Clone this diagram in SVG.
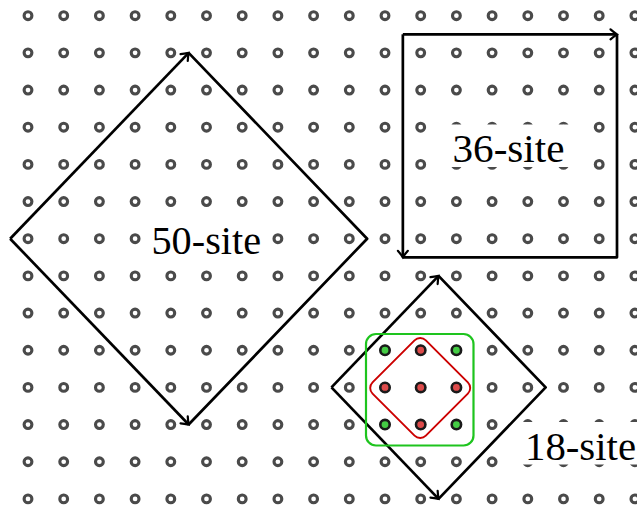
<svg xmlns="http://www.w3.org/2000/svg" xmlns:xlink="http://www.w3.org/1999/xlink" width="637" height="511" viewBox="0 0 637 511">
<style>
.edge{fill:none;stroke:#000;stroke-width:2.7;stroke-linejoin:round}
.lbl{font-family:"Liberation Serif","DejaVu Serif",serif;font-size:41px;fill:#000}
.bg{fill:#fff}
.site{fill:#fff;stroke:#4a4a4a;stroke-width:3.1}
.dot{stroke:#1a1a1a;stroke-width:2.6}
.g{fill:#44cc44}
.r{fill:#dd4b4b}
</style>
<defs>
<g id="row">
<circle class="site" cx="28" cy="0" r="3.9"/>
<circle class="site" cx="63.7" cy="0" r="3.9"/>
<circle class="site" cx="99.4" cy="0" r="3.9"/>
<circle class="site" cx="135.1" cy="0" r="3.9"/>
<circle class="site" cx="170.8" cy="0" r="3.9"/>
<circle class="site" cx="206.5" cy="0" r="3.9"/>
<circle class="site" cx="242.2" cy="0" r="3.9"/>
<circle class="site" cx="277.9" cy="0" r="3.9"/>
<circle class="site" cx="313.6" cy="0" r="3.9"/>
<circle class="site" cx="349.3" cy="0" r="3.9"/>
<circle class="site" cx="385" cy="0" r="3.9"/>
<circle class="site" cx="420.7" cy="0" r="3.9"/>
<circle class="site" cx="456.4" cy="0" r="3.9"/>
<circle class="site" cx="492.1" cy="0" r="3.9"/>
<circle class="site" cx="527.8" cy="0" r="3.9"/>
<circle class="site" cx="563.5" cy="0" r="3.9"/>
<circle class="site" cx="599.2" cy="0" r="3.9"/>
<circle class="site" cx="634.9" cy="0" r="3.9"/>
</g>
<marker id="arr" markerUnits="userSpaceOnUse" markerWidth="16" markerHeight="16" viewBox="-8 -8 16 16" refX="0" refY="0" orient="auto" overflow="visible">
<path d="M-6.5,-5 C-4,-2.8 -1.3,-0.9 0,0 C-1.3,0.9 -4,2.8 -6.5,5" fill="none" stroke="#000" stroke-width="2.2" stroke-linecap="round"/>
</marker>
</defs>
<g id="lattice">
<use href="#row" xlink:href="#row" y="15.7"/>
<use href="#row" xlink:href="#row" y="52.87"/>
<use href="#row" xlink:href="#row" y="90.04"/>
<use href="#row" xlink:href="#row" y="127.21"/>
<use href="#row" xlink:href="#row" y="164.38"/>
<use href="#row" xlink:href="#row" y="201.55"/>
<use href="#row" xlink:href="#row" y="238.72"/>
<use href="#row" xlink:href="#row" y="275.89"/>
<use href="#row" xlink:href="#row" y="313.06"/>
<use href="#row" xlink:href="#row" y="350.23"/>
<use href="#row" xlink:href="#row" y="387.4"/>
<use href="#row" xlink:href="#row" y="424.57"/>
<use href="#row" xlink:href="#row" y="461.74"/>
<use href="#row" xlink:href="#row" y="498.91"/>
</g>
<g id="connectors">
<path class="edge" d="M10.15,238.7 L188.65,52.85" marker-end="url(#arr)"/>
<path class="edge" d="M10.15,238.7 L188.65,424.55" marker-end="url(#arr)"/>
<path class="edge" d="M188.65,52.85 L367.15,238.7 L188.65,424.55"/>
<path class="edge" d="M402.85,34.3 L617,34.3" marker-end="url(#arr)"/>
<path class="edge" d="M402.85,34.3 L402.85,257.3" marker-end="url(#arr)"/>
<path class="edge" d="M617,34.3 L617,257.3 L402.85,257.3"/>
<path class="edge" d="M331.45,387.4 L438.55,275.9" marker-end="url(#arr)"/>
<path class="edge" d="M331.45,387.4 L438.55,498.9" marker-end="url(#arr)"/>
<path class="edge" d="M438.55,275.9 L545.65,387.4 L438.55,498.9"/>
</g>
<g id="cluster">
<rect x="366" y="334" width="107.5" height="111.5" rx="10" fill="none" stroke="#1ec41e" stroke-width="2.2"/>
<rect x="-37.7" y="-37.7" width="75.4" height="75.4" rx="8" fill="none" stroke="#cc0000" stroke-width="1.9" transform="translate(420.2,388) rotate(45)"/>
<circle class="dot g" cx="385" cy="350.23" r="4.7"/>
<circle class="dot r" cx="420.7" cy="350.23" r="4.7"/>
<circle class="dot g" cx="456.4" cy="350.23" r="4.7"/>
<circle class="dot r" cx="385" cy="387.4" r="4.7"/>
<circle class="dot r" cx="420.7" cy="387.4" r="4.7"/>
<circle class="dot r" cx="456.4" cy="387.4" r="4.7"/>
<circle class="dot g" cx="385" cy="424.57" r="4.7"/>
<circle class="dot r" cx="420.7" cy="424.57" r="4.7"/>
<circle class="dot g" cx="456.4" cy="424.57" r="4.7"/>
</g>
<g id="label50">
<rect class="bg" x="144" y="216" width="124" height="45"/>
<text class="lbl" x="151.5" y="253.5" textLength="109.5" lengthAdjust="spacingAndGlyphs">50-site</text>
</g>
<g id="label36">
<rect class="bg" x="448" y="124.5" width="122" height="42.5"/>
<text class="lbl" x="452.5" y="161.7" textLength="112" lengthAdjust="spacingAndGlyphs">36-site</text>
</g>
<g id="label18">
<rect class="bg" x="520" y="422" width="117" height="42.5"/>
<text class="lbl" x="525" y="460" textLength="111" lengthAdjust="spacingAndGlyphs">18-site</text>
</g>
</svg>
